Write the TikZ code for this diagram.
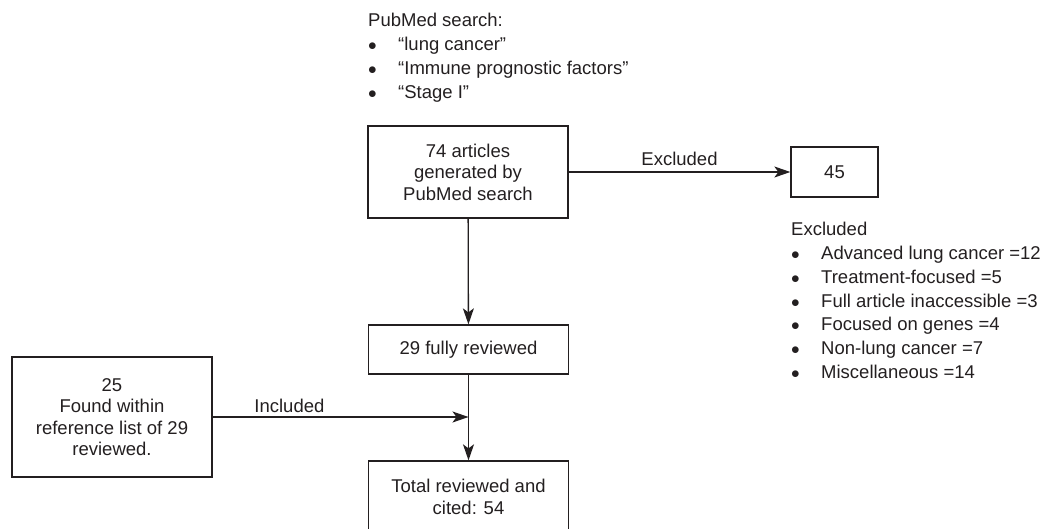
\documentclass[tikz,border=0pt]{standalone}
\usepackage{fontspec}
\setmainfont{Liberation Sans}
\usetikzlibrary{arrows.meta}
\definecolor{ink}{HTML}{231F20}
\newcommand{\bl}{\makebox[30pt][l]{$\bullet$}}

\begin{document}
\begin{tikzpicture}[x=1pt,y=-1pt]
            \tikzstyle{main node}=[draw,ink,line width=1.3pt,align=center,inner sep=0pt,minimum width=200pt,font=\fontsize{18.5pt}{21.5pt}\selectfont]
            \tikzstyle{list node}=[ink,align=left,inner sep=0pt,anchor=north west,font=\fontsize{18.5pt}{23.8pt}\selectfont]
            \tikzstyle{edge label}=[ink,inner sep=0pt,font=\fontsize{18.5pt}{22pt}\selectfont]
            \tikzstyle{arr}=[ink,line width=1.3pt,-{Stealth[length=16pt,width=11pt,inset=4pt]}]
            \useasboundingbox (0,0) rectangle (1046,529);

            \node[list node] (S) at (368,13) {PubMed search:\\\bl“lung cancer”\\\bl“Immune prognostic factors”\\\bl“Stage I”};
            \node[main node,minimum height=92pt] (A) at (468,172) {74 articles\\generated by\\PubMed search};
            \node[main node,minimum width=87pt,minimum height=50pt] (B) at (834.5,172) {45};
            \node[list node] (X) at (791,222) {Excluded\\\bl Advanced lung cancer =12\\\bl Treatment-focused =5\\\bl Full article inaccessible =3\\\bl Focused on genes =4\\\bl Non-lung cancer =7\\\bl Miscellaneous =14};
            \node[main node,minimum height=49pt] (C) at (468.5,349.5) {29 fully reviewed};
            \node[main node,minimum height=120pt] (F) at (112,417) {25\\Found within\\reference list of 29\\reviewed.};
            \node[main node,minimum height=72pt] (D) at (468.5,497) {Total reviewed and\\cited: 54};
            \coordinate (J) at (C.south |- F.east);

            \draw[arr] (A) -- (B) node[edge label,midway,above=6pt] {Excluded};
            \draw[arr] (A) -- (C);
            \draw[arr] (C) -- (D);
            \draw[arr] (F) -- (J) node[edge label,pos=0.3,above=4pt] {Included};
        \end{tikzpicture}
\end{document}
